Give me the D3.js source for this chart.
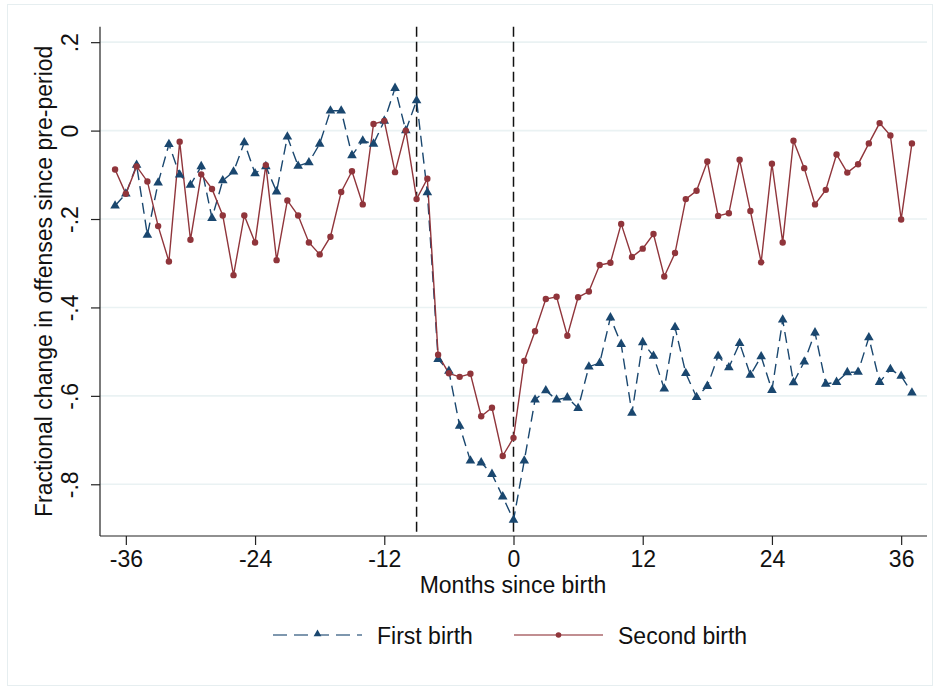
<!DOCTYPE html>
<html>
<head>
<meta charset="utf-8">
<script src="https://cdn.jsdelivr.net/npm/d3@7"></script>
<style>
  html, body { margin: 0; padding: 0; background: #fff; }
  svg text { font-family: Arial, "Liberation Sans", Helvetica, sans-serif; fill: #111; }
</style>
</head>
<body>
<svg id="chart" width="939" height="689"></svg>
<script>
// Months relative to birth
const months = d3.range(-37, 38);

// Fractional change in offenses since pre-period, first birth
const firstBirth = [
  -0.170, -0.143, -0.078, -0.236, -0.118, -0.031, -0.100, -0.123, -0.081, -0.198,
  -0.113, -0.093, -0.027, -0.097, -0.081, -0.138, -0.014, -0.080, -0.072, -0.030,
   0.045,  0.045, -0.056, -0.023, -0.030,  0.022,  0.096,  0.000,  0.068, -0.140,
  -0.517, -0.544, -0.668, -0.747, -0.751, -0.777, -0.828, -0.881, -0.747, -0.609,
  -0.588, -0.609, -0.604, -0.628, -0.534, -0.526, -0.423, -0.483, -0.639, -0.479,
  -0.510, -0.584, -0.445, -0.549, -0.603, -0.578, -0.510, -0.536, -0.481, -0.553,
  -0.511, -0.587, -0.428, -0.570, -0.523, -0.457, -0.573, -0.569, -0.547, -0.546,
  -0.468, -0.569, -0.540, -0.555, -0.593
];

// Fractional change in offenses since pre-period, second birth
const secondBirth = [
  -0.088, -0.143, -0.081, -0.115, -0.216, -0.296, -0.025, -0.247, -0.099, -0.132,
  -0.192, -0.327, -0.192, -0.253, -0.078, -0.293, -0.158, -0.192, -0.253, -0.280,
  -0.240, -0.139, -0.092, -0.167,  0.015,  0.022, -0.094,  0.000, -0.155, -0.109,
  -0.507, -0.549, -0.557, -0.550, -0.646, -0.627, -0.736, -0.695, -0.521, -0.454,
  -0.381, -0.376, -0.464, -0.377, -0.364, -0.304, -0.299, -0.211, -0.286, -0.267,
  -0.234, -0.330, -0.277, -0.155, -0.136, -0.070, -0.193, -0.187, -0.066, -0.182,
  -0.298, -0.075, -0.253, -0.023, -0.085, -0.167, -0.134, -0.054, -0.095, -0.076,
  -0.029,  0.017, -0.011, -0.201, -0.029
];

const xTicks = [-36, -24, -12, 0, 12, 24, 36];
const yTicks = [0.2, 0, -0.2, -0.4, -0.6, -0.8];
const eventLines = [-9, 0];

const seriesNames = ["First birth", "Second birth"];
const seriesColors = ["#1a476f", "#90353b"];

const svg = d3.select("#chart");
const plot = { left: 100, right: 927, top: 26.7, bottom: 536 };

const x = d3.scaleLinear().domain([-38.4, 38.4]).range([plot.left, plot.right]);
const y = d3.scaleLinear().domain([-0.917, 0.235]).range([plot.bottom, plot.top]);

// graph region outline
svg.append("rect")
  .attr("x", 7.5).attr("y", 4.5).attr("width", 925).attr("height", 681)
  .attr("fill", "#fff").attr("stroke", "#e6eef0").attr("stroke-width", 1);

// horizontal grid lines
svg.append("g").selectAll("line").data(yTicks).join("line")
  .attr("x1", plot.left).attr("x2", plot.right)
  .attr("y1", d => y(d)).attr("y2", d => y(d))
  .attr("stroke", "#eaf2f3").attr("stroke-width", 1.6);

// tick labels with plain hyphen and no leading zero ("-.2", ".2", "0")
const fmtY = d => String(+d.toFixed(1)).replace("0.", ".");
const fmtX = d => String(d);

const yAxis = d3.axisLeft(y).tickValues(yTicks).tickSize(9).tickPadding(0).tickFormat(fmtY);
const gy = svg.append("g").attr("transform", `translate(${plot.left},0)`).call(yAxis);
gy.select(".domain").attr("stroke", "#222").attr("stroke-width", 1.2)
  .attr("d", `M0,${plot.top}V${plot.bottom}`);
gy.selectAll(".tick line").attr("stroke", "#222").attr("stroke-width", 1.2);
gy.selectAll(".tick text")
  .attr("x", 0).attr("y", 0).attr("dy", 0)
  .attr("text-anchor", "middle")
  .attr("transform", "translate(-22,0) rotate(-90)")
  .style("font-size", "23px").attr("fill", "#111");

const xAxis = d3.axisBottom(x).tickValues(xTicks).tickSize(9).tickPadding(5).tickFormat(fmtX);
const gx = svg.append("g").attr("transform", `translate(0,${plot.bottom})`).call(xAxis);
gx.select(".domain").attr("stroke", "#222").attr("stroke-width", 1.2)
  .attr("d", `M${plot.left},0H${plot.right}`);
gx.selectAll(".tick line").attr("stroke", "#222").attr("stroke-width", 1.2);
gx.selectAll(".tick text").style("font-size", "23px").attr("fill", "#111")
  .attr("dy", 0).attr("y", 31);

// reference lines at the start of pregnancy and at birth
svg.append("g").selectAll("line").data(eventLines).join("line")
  .attr("x1", d => x(d)).attr("x2", d => x(d))
  .attr("y1", plot.top).attr("y2", plot.bottom)
  .attr("stroke", "#111").attr("stroke-width", 1.5)
  .attr("stroke-dasharray", "10,5");

// axis titles
svg.append("text")
  .attr("transform", `translate(52,${(plot.top + plot.bottom) / 2}) rotate(-90)`)
  .attr("text-anchor", "middle")
  .style("font-size", "23px")
  .text("Fractional change in offenses since pre-period");

svg.append("text")
  .attr("x", (plot.left + plot.right) / 2 - 0.5).attr("y", 593)
  .attr("text-anchor", "middle")
  .style("font-size", "23px")
  .text("Months since birth");

// series
const line = d3.line().x((d, i) => x(months[i])).y(d => y(d));
const tri = d3.symbol().type(d3.symbolTriangle).size(40);

svg.append("path").datum(firstBirth)
  .attr("d", line).attr("fill", "none")
  .attr("stroke", seriesColors[0]).attr("stroke-width", 1.4)
  .attr("stroke-dasharray", "11,6");

svg.append("path").datum(secondBirth)
  .attr("d", line).attr("fill", "none")
  .attr("stroke", seriesColors[1]).attr("stroke-width", 1.4);

svg.append("g").selectAll("path").data(firstBirth).join("path")
  .attr("d", tri)
  .attr("transform", (d, i) => `translate(${x(months[i])},${y(d)})`)
  .attr("fill", seriesColors[0]);

svg.append("g").selectAll("circle").data(secondBirth).join("circle")
  .attr("cx", (d, i) => x(months[i])).attr("cy", d => y(d))
  .attr("r", 3.2).attr("fill", seriesColors[1]);

// legend
const legendY = 635;
const leg = svg.append("g");
leg.append("line").attr("x1", 273).attr("x2", 362).attr("y1", legendY).attr("y2", legendY)
  .attr("stroke", seriesColors[0]).attr("stroke-width", 1.4).attr("stroke-opacity", 0.75)
  .attr("stroke-dasharray", "14,7");
leg.append("path").attr("d", d3.symbol().type(d3.symbolTriangle).size(26))
  .attr("transform", `translate(317.5,${legendY - 1})`).attr("fill", seriesColors[0]);
leg.append("text").attr("x", 377).attr("y", 644).style("font-size", "23px").text(seriesNames[0]);

leg.append("line").attr("x1", 514).attr("x2", 603).attr("y1", legendY).attr("y2", legendY)
  .attr("stroke", seriesColors[1]).attr("stroke-width", 1.4).attr("stroke-opacity", 0.75);
leg.append("circle").attr("cx", 558.5).attr("cy", legendY).attr("r", 2.8).attr("fill", seriesColors[1]);
leg.append("text").attr("x", 618).attr("y", 644).style("font-size", "23px").text(seriesNames[1]);
</script>
</body>
</html>
